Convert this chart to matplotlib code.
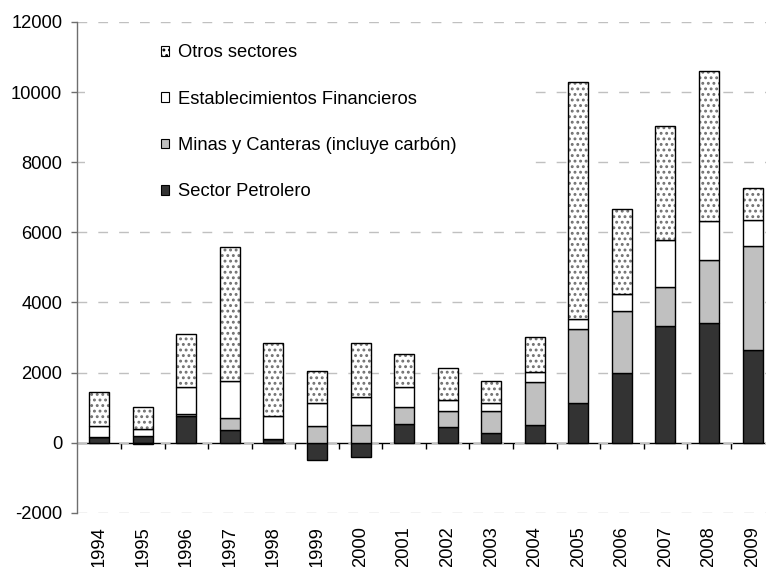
import matplotlib
matplotlib.use("Agg")
import matplotlib.pyplot as plt
from matplotlib.patches import Patch, Rectangle
import numpy as np

plt.rcParams['font.family'] = ['Liberation Sans', 'DejaVu Sans']
plt.rcParams['hatch.linewidth'] = 1.3

years = ['1994', '1995', '1996', '1997', '1998', '1999', '2000', '2001',
         '2002', '2003', '2004', '2005', '2006', '2007', '2008', '2009']

# Inversión por sector (millones de US$)
petrolero = [150, 180, 770, 360, 90, -510, -400, 530, 437, 277, 494, 1130, 2000, 3340, 3400, 2640]
minas = [20, -50, 57, 333, 0, 465, 500, 497, 456, 616, 1235, 2123, 1760, 1095, 1800, 2960]
financieros = [300, 220, 759, 1076, 669, 665, 801, 571, 314, 228, 277, 274, 468, 1342, 1111, 740]
otros = [970, 627, 1512, 3823, 2077, 904, 1532, 941, 921, 631, 998, 6755, 2442, 3261, 4297, 930]

yticks = [-2000, 0, 2000, 4000, 6000, 8000, 10000, 12000]

series = [
    ('Sector Petrolero', petrolero, dict(facecolor='#333333')),
    ('Minas y Canteras (incluye carbón)', minas, dict(facecolor='#c0c0c0')),
    ('Establecimientos Financieros', financieros, dict(facecolor='white')),
    ('Otros sectores', otros, dict(facecolor='white', hatch='...')),
]

FS = 13.2
W, H = 766, 567
fig = plt.figure(figsize=(W / 100, H / 100), dpi=100)
# plot area in pixels: left 77.5, right 774.3 (runs past the right edge), top 22, bottom 512.7
left, right, top, bottom = 77.45, 774.3, 22.0, 512.7
ax = fig.add_axes([left / W, 1 - bottom / H, (right - left) / W, (bottom - top) / H])

x = np.arange(len(years))
width = 0.46
pos = np.zeros(len(years))
neg = np.zeros(len(years))
handles = {}
for name, vals, style in series:
    v = np.array(vals, dtype=float)
    base = np.where(v >= 0, pos, neg)
    if 'hatch' in style:
        ax.bar(x, v, width, bottom=base, facecolor='white', edgecolor='#707070',
               hatch=style['hatch'], linewidth=0, zorder=2)
        ax.bar(x, v, width, bottom=base, fill=False, edgecolor='black',
               linewidth=1.0, zorder=3)
    else:
        ax.bar(x, v, width, bottom=base, facecolor=style['facecolor'],
               edgecolor='black', linewidth=1.0, zorder=2)
    pos = np.where(v >= 0, pos + v, pos)
    neg = np.where(v < 0, neg + v, neg)
    handles[name] = Patch(facecolor=style['facecolor'], edgecolor='black',
                          hatch=style.get('hatch'), linewidth=0.8)

ax.set_xlim(-0.5, len(years) - 0.5)
ax.set_ylim(-2000, 12000)
ax.set_yticks(yticks)
ax.set_yticklabels([str(t) for t in yticks])
ax.yaxis.grid(True, color='#c0c0c0', linestyle=(0, (7, 8)), linewidth=1.0)
ax.set_axisbelow(True)

for s in ('top', 'right', 'bottom'):
    ax.spines[s].set_visible(False)
ax.spines['left'].set_color('#6e6e6e')
ax.spines['left'].set_linewidth(1.0)
ax.tick_params(axis='y', direction='out', length=4, width=1.0, color='#6e6e6e',
               pad=7, labelsize=FS)

# year labels along the bottom of the plot area
ax.set_xticks(x)
ax.set_xticklabels(years, rotation=90, fontsize=FS, va='top')
ax.tick_params(axis='x', length=0, pad=10)

# category axis line at zero with tick marks between categories
sec = ax.secondary_xaxis(0, transform=ax.transData)
sec.spines['bottom'].set_color('black')
sec.spines['bottom'].set_linewidth(1.0)
sec.set_xticks(np.arange(len(years)) + 0.5)
sec.set_xticklabels([])
sec.tick_params(axis='x', direction='out', length=4, width=1.0, color='black')

# blank area behind the legend
ax.add_patch(Rectangle((0.011, 0.5965), 0.631, 0.387, transform=ax.transAxes,
                       facecolor='white', edgecolor='none', zorder=1))

order = ['Otros sectores', 'Establecimientos Financieros',
         'Minas y Canteras (incluye carbón)', 'Sector Petrolero']
ax.legend([handles[k] for k in order], order, loc='upper left',
          bbox_to_anchor=(0.107, 0.973), frameon=False, fontsize=FS,
          borderpad=0, handlelength=0.42, handleheight=0.42,
          handletextpad=0.5, labelspacing=1.6)

fig.savefig('out.png', dpi=100)
